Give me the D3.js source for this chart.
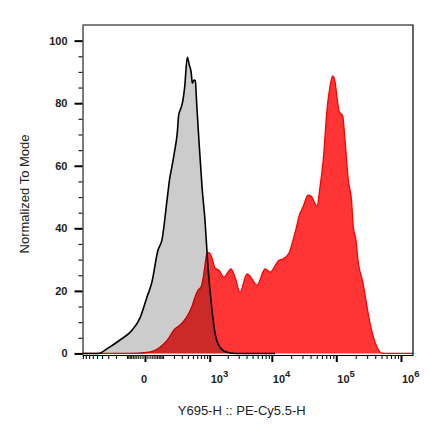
<!DOCTYPE html>
<html>
<head>
<meta charset="utf-8">
<script src="https://cdn.jsdelivr.net/npm/d3@7"></script>
<style>
  body { margin: 0; background: #fff; }
  text { font-family: "Liberation Sans", Arial, sans-serif; fill: #000; }
  .tick-lab { font-size: 11px; font-weight: bold; fill: #222; }
  .axis-title { font-size: 13px; fill: #222; }
</style>
</head>
<body>
<svg id="hist" width="429" height="444"></svg>
<script>
// control (gray) histogram: fluorescence value, % of mode
var grayX = [-914, -480, -303, -159, -65, -22, 8, 31, 65, 92, 134, 159, 176, 204, 239, 257, 289, 313, 345,
             389, 426, 465, 486, 523, 553, 587, 628, 675, 733, 827, 933, 1092, 1228, 1489, 1941, 2820, 11200];
var grayY = [0, 0, 1.7, 4.3, 7.4, 11.3, 18.0, 22.8, 33.0, 36.3, 49.6, 56.5, 59.3, 64.1, 70.5, 76.2, 78.5, 80.5, 85.3,
             94.7, 92.2, 89.6, 86.4, 87.4, 87.2, 80.0, 71.4, 62.9, 53.3, 42.6, 27.6, 13.9, 6.5, 2.0, 0.4, 0, 0];

// stained (red) histogram
var redX = [-914, -78, 8, 78, 141, 200, 275, 366, 480, 546, 620, 703, 778, 827, 897, 971, 1092, 1228, 1433, 1734,
            2016, 2253, 2617, 3149, 4070, 4540, 5850, 7820, 9370, 12940, 14930, 18510, 22950, 27550, 30540, 36520,
            40600, 50300, 56000, 63440, 71090, 80000, 88000, 95600, 103700, 111300, 125700, 136500, 153500, 172000,
            183400, 201800, 216700, 258900, 332000, 426000, 528000, 1534000];
var redY = [0, 0, 0.3, 2.0, 4.6, 7.5, 9.1, 11.3, 15.1, 18.0, 20.2, 21.2, 24.7, 28.2, 32.1, 32.2, 30.5, 27.3, 26.6, 24.4,
            26.0, 27.0, 24.4, 19.6, 25.4, 24.7, 21.8, 27.0, 26.0, 29.8, 30.2, 32.1, 38.5, 44.9, 46.8, 50.6,
            50.3, 47.1, 53.2, 62.8, 76.8, 85.3, 88.7, 86.9, 81.0, 77.3, 75.9, 68.2, 55.4, 49.0,
            40.5, 36.2, 29.8, 22.5, 9.7, 2.0, 0, 0];

var yTicks = [0, 20, 40, 60, 80, 100];
var xMajor = [0, 1e3, 1e4, 1e5, 1e6];
var xLabel = "Y695-H :: PE-Cy5.5-H";
var yLabel = "Normalized To Mode";

var svg = d3.select('#hist');
var _margin = {top: 25, right: 16, bottom: 89, left: 82.5};
var _width  = +svg.attr("width")  - _margin.left - _margin.right;
var _height = +svg.attr("height") - _margin.top  - _margin.bottom;

var x = d3.scaleSymlog().constant(111).domain([-914, 1534000]).range([0, _width]);
var y = d3.scaleLinear().domain([-0.5, 105]).range([_height, 0]);

var canvas = svg.append("g").attr("transform", `translate(${_margin.left}, ${_margin.top})`);

var gray = grayX.map((v, i) => ({x: v, y: grayY[i]}));
var red  = redX.map((v, i) => ({x: v, y: redY[i]}));

var area = d3.area().curve(d3.curveMonotoneX)
  .x((d) => x(d.x)).y0(y(0)).y1((d) => y(d.y));
var line = d3.line().curve(d3.curveMonotoneX)
  .x((d) => x(d.x)).y((d) => y(d.y));

canvas.append("path").datum(red).attr("d", area).attr("fill", "rgb(255,52,52)");
canvas.append("path").datum(red).attr("d", line).attr("fill", "none")
  .attr("stroke", "#f00").attr("stroke-width", 1.3);
canvas.append("path").datum(gray).attr("d", area).attr("fill", "rgba(0,0,0,0.2)");
canvas.append("path").datum(gray).attr("d", line).attr("fill", "none")
  .attr("stroke", "#000").attr("stroke-width", 1.6);

// frame
canvas.append("path")
  .attr("d", `M0,0H${_width}V${_height}`)
  .attr("fill", "none").attr("stroke", "#000").attr("stroke-width", 1.2);

// y axis
var yMinor = d3.range(0, 101, 5).filter((v) => v % 20 != 0);
canvas.append("g")
  .call(d3.axisLeft(y).tickValues(yMinor).tickSize(4).tickSizeOuter(0).tickFormat(""))
  .call((g) => g.selectAll("line").attr("stroke", "#222").attr("stroke-width", 1.2))
  .call((g) => g.select(".domain").attr("stroke", "#222").attr("stroke-width", 1.2));
var ay = canvas.append("g")
  .call(d3.axisLeft(y).tickValues(yTicks).tickSize(8).tickPadding(7).tickSizeOuter(0));
ay.select(".domain").remove();
ay.selectAll("line").attr("stroke", "#000").attr("stroke-width", 2);
ay.selectAll("text").attr("class", "tick-lab").attr("font-family", null).attr("font-size", null);

// x axis (biexponential-like)
var xMinor = [];
[1, 2].forEach(function(n) {
  for (var k = 1; k < 10; k++) xMinor.push(-k * Math.pow(10, n));
});
[1, 2, 3, 4, 5].forEach(function(n) {
  for (var k = 1; k < 10; k++) xMinor.push(k * Math.pow(10, n));
});
xMinor = xMinor.filter((v) => v > x.domain()[0] && v < x.domain()[1] && xMajor.indexOf(v) < 0);

var axm = canvas.append("g").attr("transform", `translate(0, ${_height})`)
  .call(d3.axisBottom(x).tickValues(xMinor).tickSize(4).tickSizeOuter(0).tickFormat(""));
axm.selectAll("line").attr("stroke", "#111").attr("stroke-width", 1.1);
axm.select(".domain").attr("stroke", "#000").attr("stroke-width", 1.2);

var axM = canvas.append("g").attr("transform", `translate(0, ${_height})`)
  .call(d3.axisBottom(x).tickValues(xMajor).tickSize(7).tickFormat(""));
axM.select(".domain").remove();
axM.selectAll("line").attr("stroke", "#000").attr("stroke-width", 2);

var xlab = canvas.append("g").attr("transform", `translate(0, ${_height + 28})`);
xMajor.forEach(function(v) {
  var t = xlab.append("text").attr("class", "tick-lab");
  if (v == 0) {
    t.attr("x", x(v) - 1).attr("text-anchor", "middle").text("0");
  } else {
    t.attr("x", x(v) + 1).attr("text-anchor", "start").text("10");
    t.append("tspan").attr("dy", -6).attr("font-size", "9.5px").text(Math.round(Math.log10(v)));
  }
});

canvas.append("text")
  .attr("class", "axis-title")
  .attr("text-anchor", "middle")
  .attr("x", 241.7 - _margin.left)
  .attr("y", _height + 59.5)
  .text(xLabel);

canvas.append("text")
  .attr("class", "axis-title")
  .attr("text-anchor", "middle")
  .attr("transform", `translate(${28.5 - _margin.left}, ${194 - _margin.top}) rotate(-90)`)
  .text(yLabel);
</script>
</body>
</html>
